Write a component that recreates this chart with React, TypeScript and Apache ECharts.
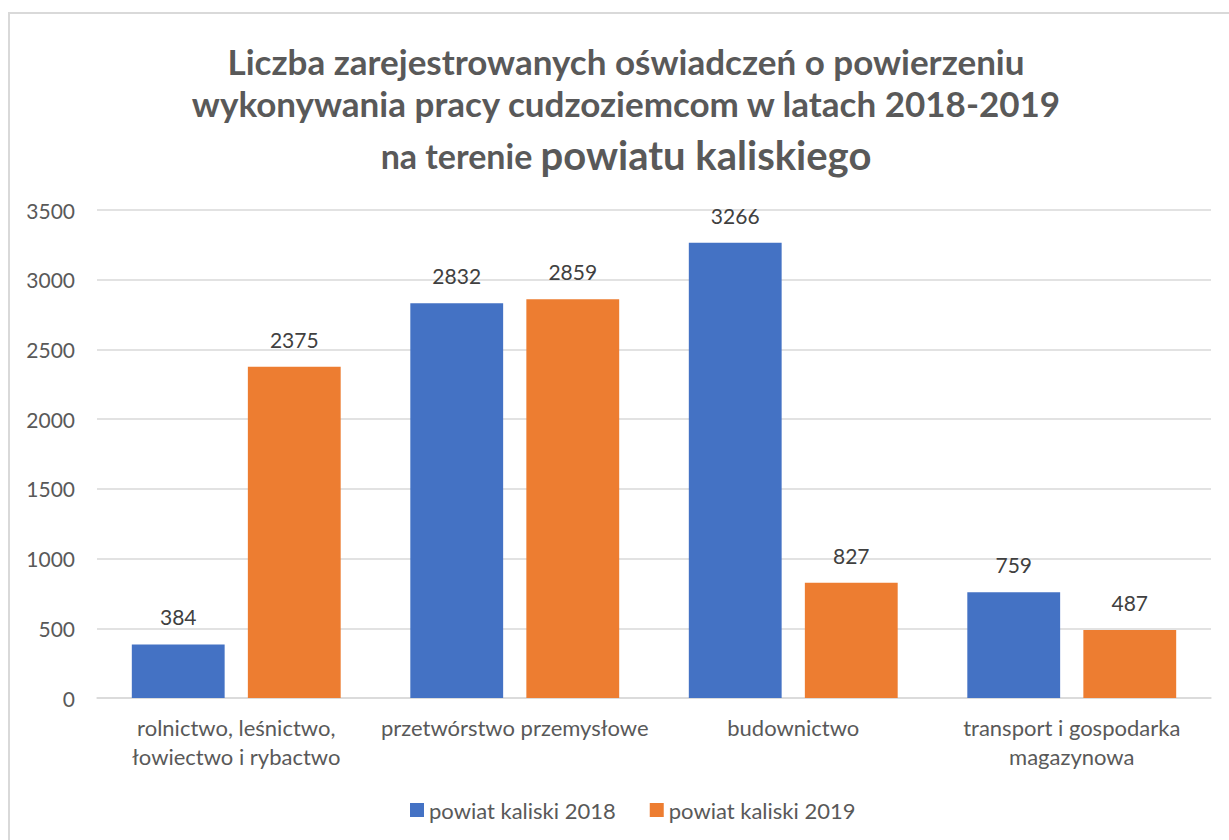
import React, { useEffect, useRef } from "react";
import * as echarts from "echarts";

const categories = [
  "rolnictwo, leśnictwo,\nłowiectwo i rybactwo",
  "przetwórstwo przemysłowe",
  "budownictwo",
  "transport i gospodarka\nmagazynowa",
];
const seriesNames = ["powiat kaliski 2018", "powiat kaliski 2019"];
const values2018 = [384, 2832, 3266, 759];
const values2019 = [2375, 2859, 827, 487];
const yTicks = { min: 0, max: 3500, interval: 500 };
const titleLines = [
  "Liczba zarejestrowanych oświadczeń o powierzeniu",
  "wykonywania pracy cudzoziemcom w latach 2018-2019",
];
const titleLine3a = "na terenie ";
const titleLine3b = "powiatu kaliskiego";

const FONT = "Lato, 'Open Sans', sans-serif";

export default function App() {
  const ref = useRef<HTMLDivElement>(null);
  useEffect(() => {
    if (!ref.current) return;
    const chart = echarts.init(ref.current, null, { renderer: "svg" });
    const labelStyle = {
      show: true,
      position: "top" as const,
      distance: 17,
      color: "#404040",
      fontSize: 21,
      fontFamily: FONT,
    };
    chart.setOption({
      animation: false,
      backgroundColor: "#ffffff",
      graphic: [
        {
          type: "rect",
          shape: { x: 9, y: 13, width: 1300, height: 900 },
          style: { fill: "none", stroke: "#d9d9d9", lineWidth: 2 },
          silent: true,
        },
        {
          type: "text",
          x: 626,
          y: 61,
          style: {
            text: titleLines[0],
            font: `bold 35px ${FONT}`,
            fill: "#595959",
            textAlign: "center",
            textVerticalAlign: "middle",
          },
        },
        {
          type: "text",
          x: 626,
          y: 103,
          style: {
            text: titleLines[1],
            font: `bold 35px ${FONT}`,
            fill: "#595959",
            textAlign: "center",
            textVerticalAlign: "middle",
          },
        },
        {
          type: "text",
          x: 626,
          y: 155,
          style: {
            text: `{a|${titleLine3a}}{b|${titleLine3b}}`,
            textAlign: "center",
            textVerticalAlign: "middle",
            rich: {
              a: { fontFamily: FONT, fontWeight: "bold", fontSize: 34, fill: "#595959", color: "#595959" },
              b: { fontFamily: FONT, fontWeight: "bold", fontSize: 40, fill: "#595959", color: "#595959" },
            },
          },
        },
      ],
      grid: { left: 97, right: 18, top: 210, bottom: 142, containLabel: false },
      legend: {
        left: 410,
        top: 799,
        padding: 0,
        itemWidth: 14,
        itemHeight: 14,
        itemGap: 34,
        icon: "rect",
        textStyle: { color: "#595959", fontSize: 22, fontFamily: FONT },
        data: seriesNames,
      },
      xAxis: {
        type: "category",
        data: categories,
        axisLine: { lineStyle: { color: "#d9d9d9", width: 1.5 } },
        axisTick: { show: false },
        axisLabel: {
          color: "#595959",
          fontSize: 22,
          fontFamily: FONT,
          lineHeight: 29,
          margin: 15,
          interval: 0,
        },
      },
      yAxis: {
        type: "value",
        min: yTicks.min,
        max: yTicks.max,
        interval: yTicks.interval,
        axisLine: { show: false },
        axisTick: { show: false },
        splitLine: { lineStyle: { color: "#d9d9d9", width: 1.5 } },
        axisLabel: {
          color: "#595959",
          fontSize: 21,
          fontFamily: FONT,
          margin: 22,
          formatter: (v: number) => String(v),
        },
      },
      series: [
        {
          name: seriesNames[0],
          type: "bar",
          data: values2018,
          itemStyle: { color: "#4472C4" },
          barGap: "25%",
          barCategoryGap: "25%",
          label: labelStyle,
        },
        {
          name: seriesNames[1],
          type: "bar",
          data: values2019,
          itemStyle: { color: "#ED7D31" },
          barGap: "25%",
          barCategoryGap: "25%",
          label: labelStyle,
        },
      ],
    });
    return () => chart.dispose();
  }, []);
  return (
    <div
      ref={ref}
      style={{ position: "absolute", left: 0, top: 0, width: 1229, height: 840 }}
    />
  );
}
